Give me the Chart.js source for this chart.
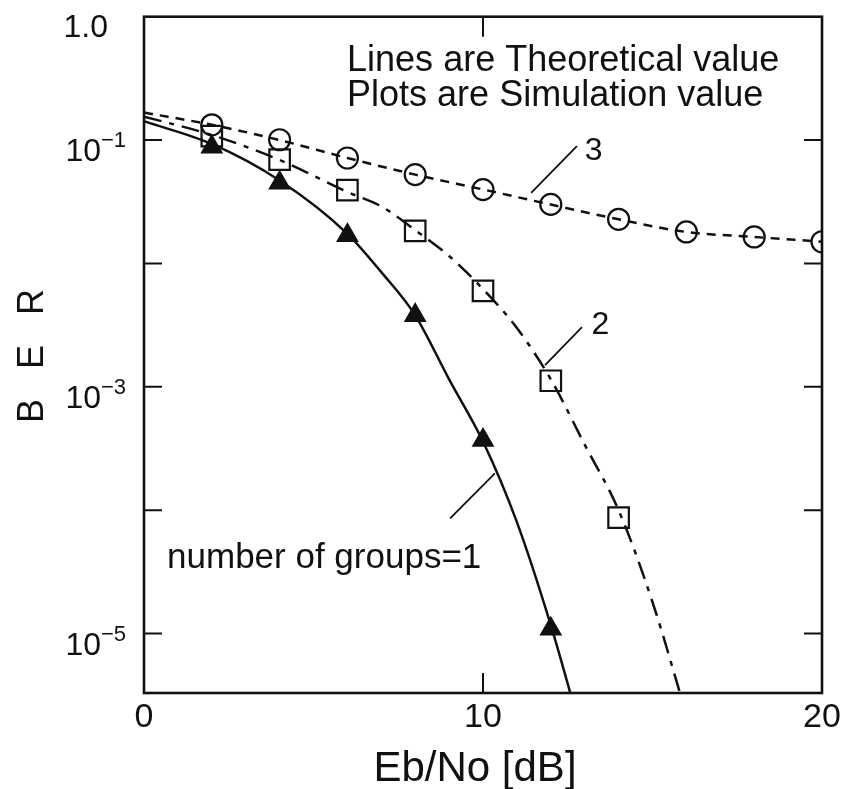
<!DOCTYPE html>
<html>
<head>
<meta charset="utf-8">
<script src="https://cdn.jsdelivr.net/npm/chart.js@4.4.0/dist/chart.umd.min.js"></script>
<style>
  html, body { margin: 0; padding: 0; background: #fff; }
</style>
</head>
<body>
<canvas id="chart" width="845" height="789"></canvas>
<script>
// theoretical curves
const theoryX1 = [0, 2, 4, 6, 7, 8, 9, 10, 11, 12, 12.7];
const theoryY1 = [0.142, 0.093, 0.047, 0.0174, 0.0085, 0.0038, 0.00115, 3.6e-4, 8.0e-5, 1.17e-5, 2.5e-6];

const theoryX2 = [0, 2, 4, 6, 7, 8, 9, 10, 11, 12, 13, 14, 15, 16];
const theoryY2 = [0.155, 0.11, 0.069, 0.038, 0.029, 0.0186, 0.0115, 0.0062, 0.003, 0.00115, 3.4e-4, 1.0e-4, 1.8e-5, 2.2e-6];

const theoryX3 = [0, 2, 4, 6, 8, 10, 12, 14, 16, 18, 20];
const theoryY3 = [0.167, 0.133, 0.1, 0.0716, 0.0525, 0.0398, 0.030, 0.0228, 0.018, 0.0164, 0.015];

// simulation points
const simX1 = [2, 4, 6, 8, 10, 12];
const simY1 = [0.088, 0.045, 0.0169, 0.0038, 3.7e-4, 1.09e-5];

const simX2 = [2, 4, 6, 8, 10, 12, 14];
const simY2 = [0.1077, 0.0694, 0.0393, 0.0184, 0.0060, 0.00112, 8.7e-5];

const simX3 = [2, 4, 6, 8, 10, 12, 14, 16, 18, 20];
const simY3 = [0.133, 0.1006, 0.0716, 0.0525, 0.0397, 0.0301, 0.0228, 0.018, 0.0164, 0.015];

// axes
const xTickValues = [10];
const xLabelValues = [0, 10, 20];
const xTickLabels = ['0', '10', '20'];
const yTickValues = [1e-1, 1e-2, 1e-3, 1e-4, 1e-5];
const yLabelValues = [1, 1e-1, 1e-3, 1e-5];
const yLabelBase = ['1.0', '10', '10', '10'];
const yLabelExp = ['', '\u22121', '\u22123', '\u22125'];

const INK = '#111';
const FONT = '"Liberation Sans", Arial, sans-serif';

const pts = (xs, ys) => xs.map((x, i) => ({ x, y: ys[i] }));

// annotation text and leader lines, in data coordinates
const notes = [
  { text: 'Lines are Theoretical value', x: 5.99, y: 0.36, size: 36 },
  { text: 'Plots are Simulation value', x: 5.99, y: 0.188, size: 36 },
  { text: '3', x: 13.0, y: 0.069, size: 32 },
  { text: '2', x: 13.2, y: 0.00267, size: 32 },
  { text: 'number of groups=1', x: 0.68, y: 3.4e-5, size: 35 }
];
const leaders = [
  [11.42, 0.0374, 12.77, 0.0895],
  [11.83, 0.0015, 12.92, 0.00305],
  [9.03, 8.6e-5, 10.35, 1.99e-4]
];

const frame = {
  id: 'frame',
  afterDraw(chart) {
    const { ctx, chartArea: a, scales: { x, y } } = chart;
    ctx.save();
    ctx.strokeStyle = INK;
    ctx.fillStyle = INK;

    // box
    ctx.lineWidth = 2.6;
    ctx.strokeRect(a.left, a.top, a.right - a.left, a.bottom - a.top);

    // inward ticks
    ctx.lineWidth = 2;
    ctx.beginPath();
    yTickValues.forEach(v => {
      const py = y.getPixelForValue(v);
      ctx.moveTo(a.left, py); ctx.lineTo(a.left + 18, py);
      ctx.moveTo(a.right - 18, py); ctx.lineTo(a.right, py);
    });
    xTickValues.forEach(v => {
      const px = x.getPixelForValue(v);
      ctx.moveTo(px, a.top); ctx.lineTo(px, a.top + 20);
      ctx.moveTo(px, a.bottom); ctx.lineTo(px, a.bottom - 20);
    });
    ctx.stroke();

    // x tick labels
    ctx.font = '34px ' + FONT;
    ctx.textAlign = 'center';
    ctx.textBaseline = 'alphabetic';
    xLabelValues.forEach((v, i) => {
      ctx.fillText(xTickLabels[i], x.getPixelForValue(v), a.bottom + 34);
    });

    // y tick labels, 10 with superscript exponent
    yLabelValues.forEach((v, i) => {
      const py = y.getPixelForValue(v);
      ctx.font = '32px ' + FONT;
      if (!yLabelExp[i]) {
        ctx.textAlign = 'right';
        ctx.fillText(yLabelBase[i], a.left - 36, py + 20);
      } else {
        ctx.textAlign = 'right';
        ctx.fillText(yLabelBase[i], a.left - 43, py + 21);
        ctx.font = '22px ' + FONT;
        ctx.textAlign = 'left';
        ctx.fillText(yLabelExp[i], a.left - 43, py + 7);
      }
    });

    // axis titles
    ctx.font = '42px ' + FONT;
    ctx.textAlign = 'center';
    ctx.fillText('Eb/No [dB]', (a.left + a.right) / 2 - 8, a.bottom + 88);
    ctx.save();
    ctx.translate(43, 356);
    ctx.rotate(-Math.PI / 2);
    ctx.font = '36px ' + FONT;
    ctx.fillText('B   E   R', 0, 0);
    ctx.restore();

    // annotations
    ctx.textAlign = 'left';
    notes.forEach(n => {
      ctx.font = n.size + 'px ' + FONT;
      ctx.fillText(n.text, x.getPixelForValue(n.x), y.getPixelForValue(n.y));
    });
    ctx.lineWidth = 1.8;
    ctx.beginPath();
    leaders.forEach(l => {
      ctx.moveTo(x.getPixelForValue(l[0]), y.getPixelForValue(l[1]));
      ctx.lineTo(x.getPixelForValue(l[2]), y.getPixelForValue(l[3]));
    });
    ctx.stroke();
    ctx.restore();
  }
};

const lineSet = (data, dash) => ({
  data, borderColor: INK, borderWidth: 2.5, borderDash: dash,
  pointRadius: 0, fill: false, cubicInterpolationMode: 'monotone', clip: 0
});
const markSet = (data, style, radius, filled) => ({
  data, showLine: false, pointStyle: style, pointRadius: radius,
  pointBorderWidth: 2.2, pointBorderColor: INK,
  pointBackgroundColor: filled ? INK : 'rgba(0,0,0,0)', clip: 0
});

new Chart(document.getElementById('chart'), {
  type: 'line',
  data: {
    datasets: [
      lineSet(pts(theoryX1, theoryY1), []),
      lineSet(pts(theoryX2, theoryY2), [18, 8, 5, 8]),
      lineSet(pts(theoryX3, theoryY3), [9, 7]),
      markSet(pts(simX1, simY1), 'triangle', 11, true),
      markSet(pts(simX2, simY2), 'rect', 14.5, false),
      markSet(pts(simX3, simY3), 'circle', 10.5, false)
    ]
  },
  options: {
    responsive: false,
    animation: false,
    layout: { padding: { left: 144, right: 23, top: 13, bottom: 96 } },
    plugins: { legend: { display: false }, tooltip: { enabled: false } },
    scales: {
      x: { type: 'linear', min: 0, max: 20, display: false },
      y: { type: 'logarithmic', min: 3.3e-6, max: 1, display: false }
    }
  },
  plugins: [frame]
});
</script>
</body>
</html>
